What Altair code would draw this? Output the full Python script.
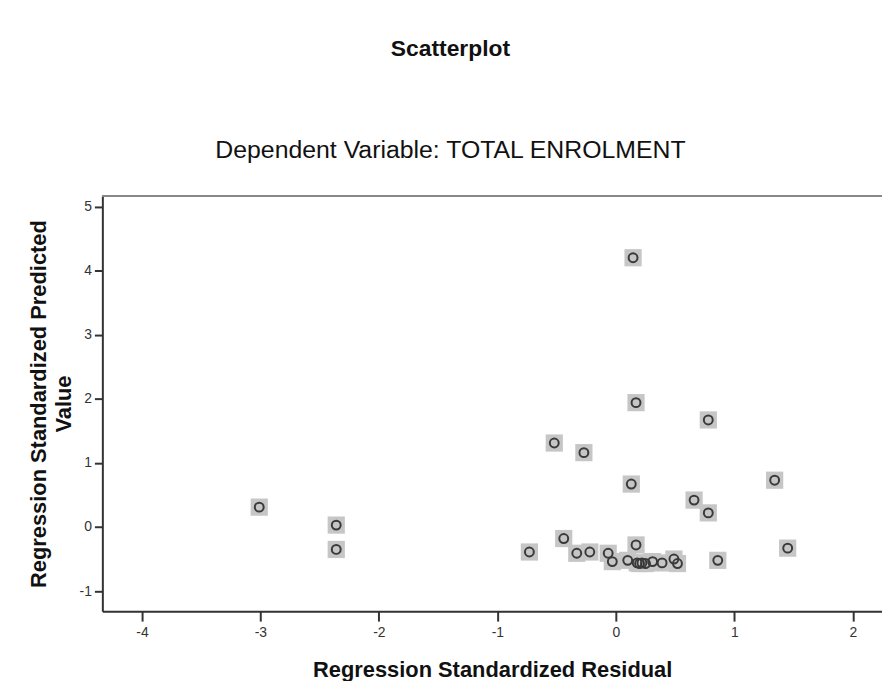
import altair as alt
import pandas as pd

# Regression Standardized Residual (x) and Regression Standardized Predicted Value (y)
resid = [-3.01, -2.36, -2.36, 0.145, 0.17, 0.78, -0.52, -0.27, 0.13, 1.34,
         0.66, 0.78, 0.86, 1.45, -0.73, -0.44, -0.33, -0.22, -0.065, -0.03,
         0.17, 0.10, 0.18, 0.20, 0.22, 0.25, 0.31, 0.39, 0.49, 0.52]
pred = [0.31, 0.03, -0.35, 4.20, 1.94, 1.67, 1.31, 1.16, 0.67, 0.73,
        0.42, 0.22, -0.52, -0.33, -0.39, -0.18, -0.41, -0.39, -0.41, -0.54,
        -0.28, -0.52, -0.56, -0.57, -0.56, -0.57, -0.54, -0.56, -0.50, -0.57]

x_ticks = [-4, -3, -2, -1, 0, 1, 2]
y_ticks = [-1, 0, 1, 2, 3, 4, 5]

df = pd.DataFrame({"resid": resid, "pred": pred})

W, H = 785, 418
FONT = "Liberation Sans"
LABEL_EXPR = "datum.value < 0 ? '-' + abs(datum.value) : '' + datum.value"

base = alt.Chart(df).encode(
    x=alt.X(
        "resid:Q",
        scale=alt.Scale(domain=[-4.334, 2.246], nice=False, zero=False),
        axis=alt.Axis(
            values=x_ticks, labelExpr=LABEL_EXPR, grid=False,
            title="Regression Standardized Residual",
            titleFontSize=22, titleFontWeight="bold", titleColor="#111",
            titleFont=FONT, titlePadding=20,
            labelFont=FONT, labelFontSize=14, labelColor="#333",
            labelPadding=5, tickSize=10, tickColor="#333", tickWidth=2,
            domainColor="#333", domainWidth=2,
        ),
    ),
    y=alt.Y(
        "pred:Q",
        scale=alt.Scale(domain=[-1.313, 5.163], nice=False, zero=False),
        axis=alt.Axis(
            values=y_ticks, labelExpr=LABEL_EXPR, grid=False,
            title=["Regression Standardized Predicted", "Value"],
            titleFontSize=22, titleFontWeight="bold", titleColor="#111",
            titleFont=FONT, titlePadding=4, titleLineHeight=25,
            labelFont=FONT, labelFontSize=14, labelColor="#333",
            labelPadding=3, tickSize=8, tickColor="#333", tickWidth=2,
            domainColor="#333", domainWidth=2,
        ),
    ),
)

squares = base.mark_square(color="#c6c6c6", opacity=1, size=300)
circles = base.mark_point(shape="circle", filled=False, stroke="#3a3a3a",
                          strokeWidth=2, size=80, opacity=1)

top_border = alt.Chart(df).mark_rule(color="#888", strokeWidth=2).encode(
    x=alt.value(0), x2=alt.value(W), y=alt.value(0)
)

chart = (
    alt.layer(top_border, squares, circles)
    .properties(
        width=W,
        height=H,
        autosize=alt.AutoSizeParams(type="none"),
        padding={"left": 95, "top": 187, "right": 0, "bottom": 68},
        title=alt.TitleParams(
            text="Scatterplot",
            subtitle="Dependent Variable: TOTAL ENROLMENT",
            font=FONT, fontSize=23, fontWeight="bold", color="#111",
            subtitleFont=FONT, subtitleFontSize=25, subtitleColor="#111",
            subtitlePadding=78, offset=32, anchor="middle", dx=-42,
        ),
    )
    .configure_view(stroke=None)
    .configure(background="white")
)

chart.save("out.html", embed_options={"renderer": "svg", "actions": False})
